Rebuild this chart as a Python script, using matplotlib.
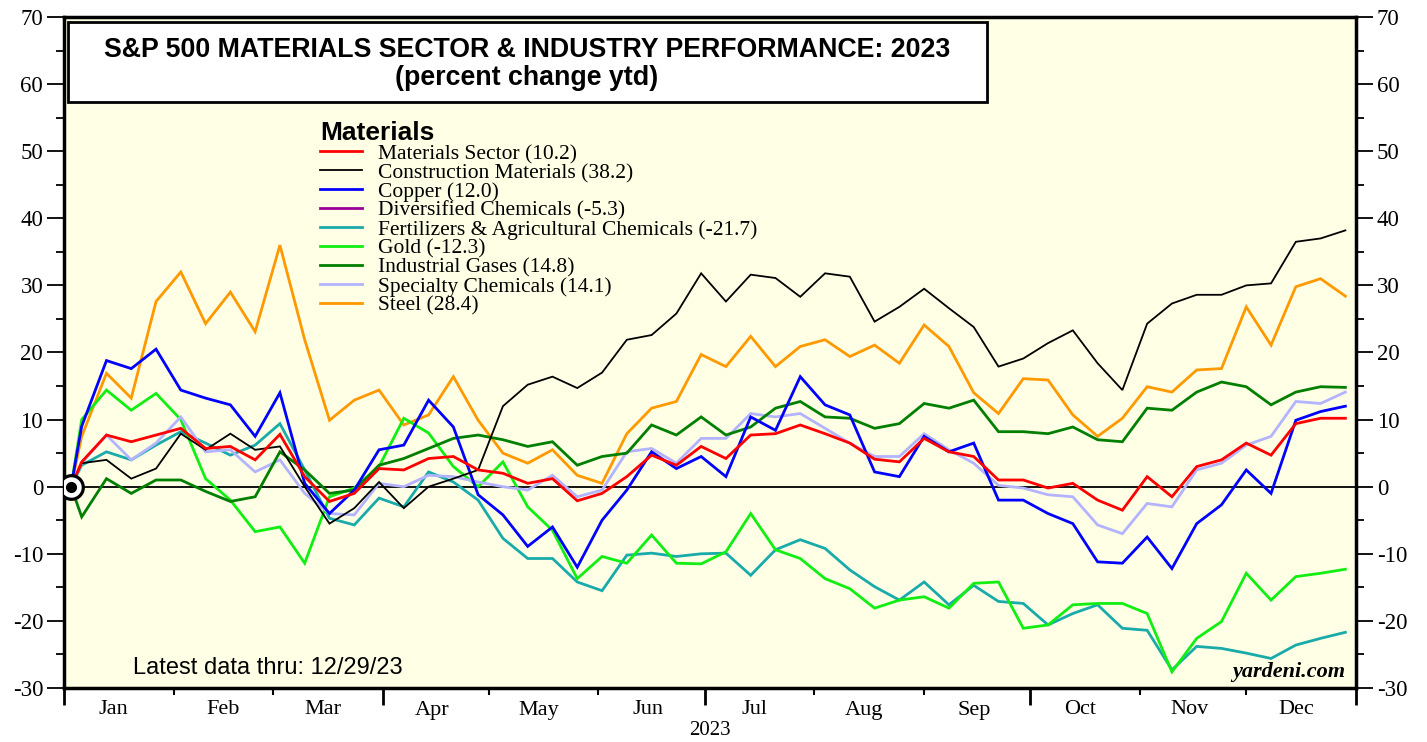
import matplotlib
matplotlib.use('Agg')
import matplotlib.pyplot as plt
import matplotlib.dates as mdates
from matplotlib.patches import Rectangle
from matplotlib.ticker import MultipleLocator
import pandas as pd

# base day plus weekly (Friday) readings, percent change ytd
dates = pd.to_datetime(['2023-01-03']).append(pd.date_range('2023-01-06', '2023-12-29', freq='W-FRI'))

materials_sector = [0, 3.7, 7.7, 6.7, 7.7, 8.7, 5.7, 6.0, 4.0, 7.8,
                    1.5, -2.2, -1.0, 2.7, 2.5, 4.2, 4.5, 2.5,
                    2.0, 0.5, 1.2, -2.1, -1.0, 1.5, 4.7, 3.2, 6.0,
                    4.2, 7.7, 7.9, 9.2, 7.9, 6.5, 4.1, 3.7,
                    7.2, 5.2, 4.5, 1.0, 1.0, -0.2, 0.5, -2.0,
                    -3.5, 1.5, -1.5, 3.0, 4.0, 6.5, 4.7, 9.4, 10.2, 10.2]
construction = [0, 3.5, 4.0, 1.2, 2.7, 7.9, 5.5, 7.9, 5.5, 6.0,
                0.0, -5.5, -3.2, 0.7, -3.2, 0.0, 1.2, 2.5,
                12.0, 15.2, 16.4, 14.7, 17.0, 21.9, 22.6, 25.8, 31.8,
                27.6, 31.6, 31.1, 28.3, 31.8, 31.3, 24.6, 26.8,
                29.5, 26.6, 23.8, 17.9, 19.1, 21.4, 23.3, 18.4,
                14.4, 24.3, 27.3, 28.6, 28.6, 30.0, 30.3, 36.5, 37.0, 38.2]
copper = [0, 9.0, 18.8, 17.6, 20.5, 14.4, 13.2, 12.2, 7.5, 14.0,
          0.5, -4.0, -0.5, 5.5, 6.2, 12.9, 8.9, -1.2,
          -4.2, -8.9, -6.0, -12.0, -5.0, -0.5, 5.2, 2.7, 4.5,
          1.5, 10.4, 8.4, 16.4, 12.2, 10.7, 2.2, 1.5,
          7.5, 5.2, 6.5, -2.0, -2.0, -4.0, -5.5, -11.2,
          -11.4, -7.5, -12.2, -5.5, -2.7, 2.5, -1.0, 9.9, 11.2, 12.0]
fertilizers = [0, 3.2, 5.2, 4.0, 6.2, 8.2, 6.5, 4.7, 6.2, 9.4,
               2.5, -4.7, -5.7, -1.7, -3.0, 2.2, 0.7, -2.0,
               -7.7, -10.7, -10.7, -14.2, -15.5, -10.2, -9.9, -10.4, -10.0,
               -9.9, -13.2, -9.4, -7.9, -9.2, -12.4, -14.9, -16.9,
               -14.2, -17.6, -14.7, -17.1, -17.4, -20.6, -18.9, -17.6,
               -21.1, -21.4, -27.3, -23.8, -24.1, -24.8, -25.6, -23.6, -22.6, -21.7]
gold = [0, 10.0, 14.4, 11.4, 13.9, 10.0, 1.2, -2.0, -6.7, -6.0,
        -11.4, -1.5, -0.2, 3.0, 10.2, 8.0, 3.0, 0.0,
        3.7, -3.0, -6.5, -13.7, -10.4, -11.4, -7.2, -11.4, -11.5,
        -9.7, -4.0, -9.4, -10.7, -13.7, -15.2, -18.1, -16.9,
        -16.4, -18.1, -14.4, -14.2, -21.1, -20.6, -17.6, -17.4,
        -17.4, -18.9, -27.6, -22.6, -20.1, -12.9, -16.9, -13.4, -12.9, -12.3]
industrial_gases = [0, -4.5, 1.2, -1.0, 1.0, 1.0, -0.7, -2.2, -1.5, 5.2,
                    2.5, -1.0, -0.5, 3.2, 4.2, 5.7, 7.2, 7.7,
                    7.0, 6.0, 6.7, 3.2, 4.5, 5.0, 9.2, 7.7, 10.4,
                    7.7, 8.9, 11.7, 12.7, 10.4, 10.2, 8.7, 9.4,
                    12.4, 11.7, 12.9, 8.2, 8.2, 7.9, 8.9, 7.0,
                    6.7, 11.7, 11.4, 14.1, 15.6, 14.9, 12.2, 14.1, 14.9, 14.8]
specialty = [0, 3.5, 7.7, 4.0, 6.5, 10.4, 5.2, 5.5, 2.2, 4.0,
             -1.0, -4.0, -4.2, 0.5, 0.0, 1.7, 1.5, 0.7,
             0.0, -0.5, 1.7, -1.5, -0.5, 5.2, 5.7, 3.5, 7.2,
             7.2, 10.9, 10.4, 10.9, 8.7, 6.5, 4.5, 4.5,
             7.9, 5.5, 3.5, 0.2, -0.2, -1.2, -1.5, -5.7,
             -7.0, -2.5, -3.0, 2.5, 3.5, 6.2, 7.5, 12.7, 12.4, 14.1]
steel = [0, 7.5, 16.9, 13.2, 27.6, 32.0, 24.3, 29.0, 23.1, 36.0,
         21.9, 9.9, 12.9, 14.4, 9.2, 10.7, 16.4, 9.9,
         5.0, 3.5, 5.5, 1.7, 0.5, 7.9, 11.7, 12.7, 19.7,
         17.9, 22.4, 17.9, 20.9, 21.9, 19.4, 21.1, 18.4,
         24.1, 20.9, 14.0, 10.9, 16.1, 15.9, 10.7, 7.5,
         10.2, 14.9, 14.1, 17.4, 17.6, 26.8, 21.1, 29.8, 31.0, 28.4]
diversified = []  # not visible on the chart, legend only

labels = ['Materials Sector (10.2)', 'Construction Materials (38.2)', 'Copper (12.0)',
          'Diversified Chemicals (-5.3)', 'Fertilizers & Agricultural Chemicals (-21.7)',
          'Gold (-12.3)', 'Industrial Gases (14.8)', 'Specialty Chemicals (14.1)', 'Steel (28.4)']
series = [materials_sector, construction, copper, diversified, fertilizers,
          gold, industrial_gases, specialty, steel]
colors = ['#ff0000', '#000000', '#0000ff', '#990099', '#19aaaa',
          '#11ee11', '#007f00', '#b3b3ff', '#ff9900']
widths = [2.0, 1.3, 2.0, 2.0, 2.0, 2.0, 2.0, 2.0, 2.0]

months = ['Jan', 'Feb', 'Mar', 'Apr', 'May', 'Jun', 'Jul', 'Aug', 'Sep', 'Oct', 'Nov', 'Dec']

SERIF = 'Liberation Serif'
SANS = 'Liberation Sans'
plt.rcParams['font.family'] = SERIF
plt.rcParams['axes.unicode_minus'] = False

W, H = 1427, 742
fig = plt.figure(figsize=(W / 100, H / 100), dpi=100)
ax = fig.add_axes([64 / W, 54 / H, 1292 / W, 671 / H])
ax.set_facecolor('#ffffe6')

zorders = [9, 8, 7, 3, 4, 5, 6, 5.5, 4.5]
for vals, lab, c, lw, z in zip(series, labels, colors, widths, zorders):
    ax.plot(dates[:len(vals)], vals, color=c, lw=lw, label=lab, zorder=z,
            solid_joinstyle='miter')

ax.axhline(0, color='black', lw=1.3, zorder=2)
ax.plot(dates[0], 0, marker='o', ms=17, mfc='white', mec='black', mew=2.3, zorder=12)
ax.plot(dates[0], 0, marker='o', ms=7, color='black', zorder=13)

# axes, ticks
ax.set_ylim(-30, 70)
ax.set_xlim(pd.Timestamp('2023-01-01'), pd.Timestamp('2024-01-01'))
ax.yaxis.set_major_locator(MultipleLocator(10))
ax.yaxis.set_minor_locator(MultipleLocator(5))
ax.tick_params(axis='y', which='major', direction='out', length=12, width=1.3,
               labelsize=16.5, left=True, right=True, labelleft=True, labelright=True, pad=3)
ax.tick_params(axis='y', which='minor', direction='out', length=5.5, width=1.3,
               left=True, right=True)

ax.xaxis.set_major_locator(mdates.MonthLocator(bymonth=[1, 4, 7, 10]))
ax.xaxis.set_minor_locator(mdates.MonthLocator())
ax.tick_params(axis='x', which='major', direction='out', length=12, width=2, labelbottom=False)
ax.tick_params(axis='x', which='minor', direction='out', length=5, width=1.5)
for sp in ax.spines.values():
    sp.set_linewidth(2.5)

mid = [mdates.date2num(pd.Timestamp(2023, m, 15)) for m in range(1, 13)]
sec = ax.secondary_xaxis('bottom')
sec.set_xticks(mid, labels=months)
sec.tick_params(length=0, labelsize=16, pad=9)
sec.spines['bottom'].set_visible(False)
sec.set_xlabel('2023', fontsize=15, labelpad=1)

# title box
ax.add_patch(Rectangle((68 / W, 1 - 102 / H), 919 / W, 80 / H, transform=fig.transFigure,
                       facecolor='white', edgecolor='black', lw=2, zorder=20, clip_on=False))
ax.text(527 / W, 1 - 50 / H, 'S&P 500 MATERIALS SECTOR & INDUSTRY PERFORMANCE: 2023',
        transform=fig.transFigure, ha='center', va='center', family=SANS, weight='bold',
        fontsize=19.3, zorder=21)
ax.text(527 / W, 1 - 78 / H, '(percent change ytd)', transform=fig.transFigure,
        ha='center', va='center', family=SANS, weight='bold', fontsize=19.3, zorder=21)

leg = ax.legend(loc='upper left', bbox_to_anchor=(320 / W, 1 - 121 / H),
                bbox_transform=fig.transFigure, frameon=False, title='Materials',
                alignment='left', prop=dict(family=SERIF, size=15.5),
                title_fontproperties=dict(family=SANS, weight='bold', size=19),
                handlelength=1.95, handletextpad=0.75, labelspacing=-0.05,
                borderpad=0, borderaxespad=0)
leg.set_zorder(22)

ax.text(133 / W, 1 - 668 / H, 'Latest data thru: 12/29/23', transform=fig.transFigure,
        ha='left', va='center', family=SANS, fontsize=17)
ax.text(1345 / W, 1 - 672 / H, 'yardeni.com', transform=fig.transFigure,
        ha='right', va='center', family=SERIF, weight='bold', style='italic', fontsize=16)

fig.savefig('out.png', dpi=100, facecolor='white')
